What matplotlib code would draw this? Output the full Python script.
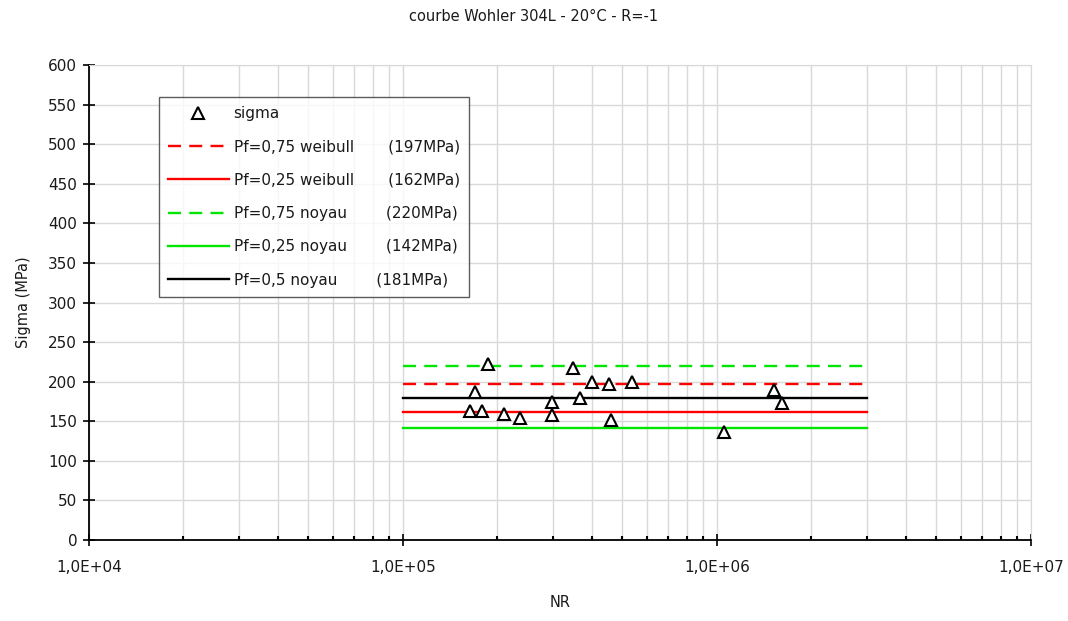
import math
import matplotlib
matplotlib.use("Agg")
import matplotlib.pyplot as plt
from matplotlib.ticker import LogLocator, NullFormatter, FuncFormatter

# Data
nr = [1.87e5, 1.70e5, 1.64e5, 1.78e5, 2.10e5, 2.36e5, 2.99e5, 2.98e5, 3.49e5,
      3.65e5, 4.01e5, 4.53e5, 4.60e5, 5.35e5, 1.055e6, 1.52e6, 1.61e6]
sigma = [222, 187, 163, 163, 159, 154, 174, 158, 217,
         180, 199, 197, 152, 200, 137, 190, 173]
line_x = [1e5, 3e6]
line_levels = [197, 162, 220, 142, 179]
line_labels = ["Pf=0,75 weibull       (197MPa)", "Pf=0,25 weibull       (162MPa)",
               "Pf=0,75 noyau        (220MPa)", "Pf=0,25 noyau        (142MPa)",
               "Pf=0,5 noyau        (181MPa)"]
line_colors = ["#ff0000", "#ff0000", "#00e600", "#00e600", "#000000"]
line_dashed = [True, False, True, False, False]
yticks = list(range(0, 601, 50))

fig = plt.figure(figsize=(10.68, 6.21), dpi=100)
ax = fig.add_axes([0.0833, 0.1304, 0.882, 0.7649])

grid_c = "#d9d9d9"
txt_c = "#1a1a1a"
ax.set_xscale("log")
ax.set_xlim(1e4, 1e7)
ax.set_ylim(0, 600)

ax.plot(nr, sigma, linestyle="none", marker="^", markersize=9,
        markerfacecolor="white", markeredgecolor="black", markeredgewidth=1.5,
        label="sigma", zorder=5)
for lvl, lab, col, dsh in zip(line_levels, line_labels, line_colors, line_dashed):
    ln, = ax.plot(line_x, [lvl, lvl], color=col, lw=1.7, label=lab, zorder=3)
    if dsh:
        ln.set_dashes((5.5, 3.5))

ax.set_yticks(yticks)
ax.xaxis.set_major_locator(LogLocator(base=10, numticks=10))
ax.xaxis.set_minor_locator(LogLocator(base=10, subs=range(2, 10), numticks=20))
ax.xaxis.set_minor_formatter(NullFormatter())
ax.xaxis.set_major_formatter(FuncFormatter(lambda v, p: "1,0E+%02d" % round(math.log10(v))))
ax.grid(True, which="major", color=grid_c, lw=1)
ax.grid(True, which="minor", axis="x", color=grid_c, lw=1)
ax.set_axisbelow(True)

for s in ["top", "right"]:
    ax.spines[s].set_color(grid_c)
for s in ["left", "bottom"]:
    ax.spines[s].set_color("black")
    ax.spines[s].set_linewidth(1.3)

ax.tick_params(axis="both", which="major", direction="inout", length=9, width=1.2,
               labelsize=11, pad=4, labelcolor=txt_c)
ax.tick_params(axis="x", which="minor", direction="in", length=3, width=1.5)
ax.tick_params(axis="x", which="major", pad=10)

ax.set_xlabel("NR", fontsize=10.5, labelpad=14, color=txt_c)
ax.set_ylabel("Sigma (MPa)", fontsize=10.5, labelpad=12, color=txt_c)
fig.suptitle("courbe Wohler 304L - 20°C - R=-1", fontsize=10.5, y=0.985, color=txt_c)

leg = ax.legend(loc="upper left", bbox_to_anchor=(0.074, 0.933), borderaxespad=0,
                frameon=True, fancybox=False, edgecolor="#333333", fontsize=11,
                handlelength=4.0, handletextpad=0.3, labelspacing=1.2,
                borderpad=0.6)
for t in leg.get_texts():
    t.set_color(txt_c)
leg.get_frame().set_linewidth(1.0)

fig.savefig("out.png", dpi=100, facecolor="white")
